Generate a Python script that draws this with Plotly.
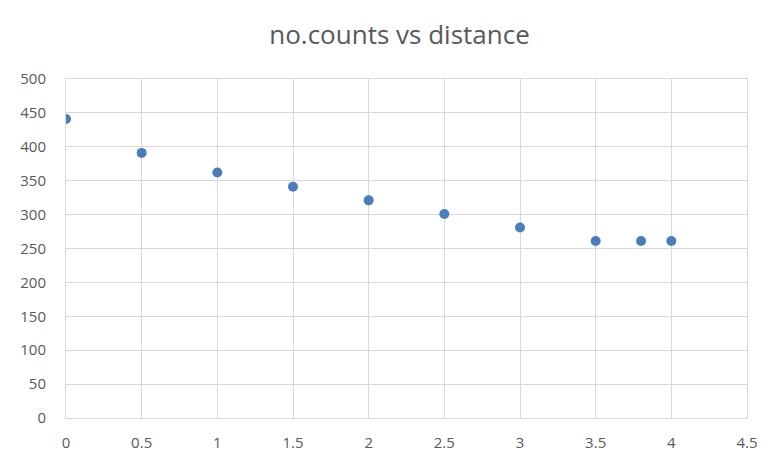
import plotly.graph_objects as go

distance = [0, 0.5, 1, 1.5, 2, 2.5, 3, 3.5, 3.8, 4]
counts = [441, 391, 362, 341, 321, 301, 281, 261, 261, 261]

fig = go.Figure()
fig.add_trace(go.Scatter(
    x=distance, y=counts, mode="markers",
    marker=dict(size=10, color="#4a7ebb"),
    showlegend=False,
))

fig.update_layout(
    width=783, height=468,
    margin=dict(l=56, r=44, t=71, b=58),
    paper_bgcolor="white", plot_bgcolor="white",
    title=dict(text="no.counts vs distance", x=0.5, xanchor="center",
               y=0.942, yanchor="middle",
               font=dict(family="Open Sans, sans-serif", size=26, color="#595959")),
    font=dict(family="Open Sans, sans-serif", size=15, color="#595959"),
)
fig.update_xaxes(range=[0, 4.5], dtick=0.5, showgrid=True, gridcolor="#d9d9d9", gridwidth=1,
                 zeroline=False, showline=True, linecolor="#d9d9d9", mirror=True,
                 ticks="", ticklabelstandoff=11, tickformat="~g")
fig.update_yaxes(range=[0, 500], dtick=50, showgrid=True, gridcolor="#d9d9d9", gridwidth=1,
                 zeroline=False, showline=True, linecolor="#d9d9d9", mirror=True,
                 ticks="", ticklabelstandoff=16)

fig.write_html("out.html")
